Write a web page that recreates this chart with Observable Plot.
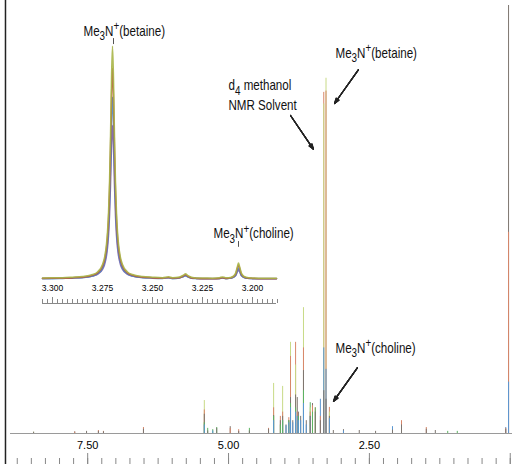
<!DOCTYPE html>
<html><head><meta charset="utf-8">
<script src="https://cdn.jsdelivr.net/npm/d3@7"></script>
<script src="https://cdn.jsdelivr.net/npm/@observablehq/plot@0.6"></script>
<style>
html,body{margin:0;padding:0;background:#fff;}
#wrap{position:relative;width:516px;height:464px;overflow:hidden;background:#fff;}
#wrap svg{position:absolute;left:0;top:0;}
</style></head><body><div id="wrap"></div>
<script>
// ---------------- main spectrum (ppm, intensity in % of full scale) ----------------
const peakPpm = [8.46, 7.73, 7.52, 7.31, 7.22, 6.51, 5.43, 5.37, 5.28, 5.21, 4.97, 4.82, 4.63, 4.29, 4.20, 4.08, 4.04, 3.98, 3.93, 3.90, 3.86, 3.81, 3.78, 3.76, 3.72, 3.67, 3.62, 3.55, 3.51, 3.46, 3.37, 3.31, 3.27, 3.21, 3.14, 2.96, 2.68, 2.39, 2.09, 1.93, 1.49, 1.33, 1.11, 0.94, 0.08, 0.03, -0.06];
const sampleA = [0.3, 0, 0, 0, 0, 0, 7.7, 0, 0, 0, 0, 0, 0, 0, 11.7, 0, 11.0, 0, 0, 21.3, 0, 16, 0, 0, 0, 29.4, 0, 6, 0, 0, 0, 77, 83, 5, 0, 0, 0, 0, 0, 0, 0, 0, 0, 0, 0, 0, 0];
const sampleB = [0, 0.3, 0, 0.7, 0.5, 1.4, 5.5, 0, 0, 0, 1.2, 0.9, 0, 1.2, 6, 4, 5, 0, 3.7, 18, 0, 21.3, 5, 0, 0, 20, 0, 5, 6.5, 6, 4, 79.7, 80, 6.1, 0, 0, 0, 0, 0, 3.0, 1.4, 0, 0, 0, 1.2, 47, 0.8];
const sampleC = [0, 0, 0, 0, 0, 0, 2.0, 0, 0.6, 0, 0, 0, 0, 0, 3, 0, 3, 1.8, 2.5, 6, 2.5, 5, 4, 3, 3, 7, 2, 4, 0, 0, 8, 20, 15, 3.5, 0, 0.6, 0, 0, 1.6, 0, 0, 0, 0, 0, 1.4, 12, 0];
const sampleD = [0.3, 0.4, 0.5, 0.5, 0.4, 1.0, 4.5, 0.6, 0, 1.2, 1.6, 0.5, 0.6, 1.0, 4.2, 3, 4, 2, 3, 8.4, 3, 9, 8.4, 5, 4, 14.7, 3, 4, 7, 5, 3, 10, 8, 4, 0.7, 0.9, 0.7, 0.5, 0.8, 2.0, 1.0, 0.7, 0, 0, 1.0, 105, 1.2];
const sampleE = [0, 0, 0, 0, 0, 0, 2.5, 1.2, 0.9, 1.4, 0, 0, 1.2, 0, 4, 2, 3, 0, 3, 7, 0, 6, 0, 4, 0, 10, 0, 7.2, 5, 6, 0, 0, 0, 0, 0, 0, 0, 0, 0, 0, 0, 0, 0.5, 0.5, 0, 0, 0];
const sampleNames = ["A", "B", "C", "D", "E"];
const sampleColors = ["#c8da86", "#d8876a", "#5a97d2", "#7d7670", "#5cb461"];

const majorTicks = [7.5, 5, 2.5, 0];
const minorTicks = [8.75, 8.5, 8.25, 8, 7.75, 7.5, 7.25, 7, 6.75, 6.5, 6.25, 6, 5.75, 5.5, 5.25, 5, 4.75, 4.5, 4.25, 4, 3.75, 3.5, 3.25, 3, 2.75, 2.5, 2.25, 2, 1.75, 1.5, 1.25, 1, 0.75, 0.5, 0.25, 0];
const labelTicks = [7.5, 5, 2.5];
const tickLabels = ["7.50", "5.00", "2.50"];

const mainLabels = ["Me_3N^+(betaine)", "d_4 methanol", "NMR Solvent", "Me_3N^+(choline)"];
const mainLabelPpm = [3.102, 5.001, 5.001, 3.102];
const mainLabelY = [88.9, 81.3, 76.6, 19.9];
const arrowX1 = [2.693, 3.900, 2.711];
const arrowY1 = [85.0, 74.3, 15.4];
const arrowX2 = [3.119, 3.492, 3.137];
const arrowY2 = [77.1, 66.4, 7.5];

// ---------------- inset (3.305 – 3.188 ppm) ----------------
const insetPpm = [3.305, 3.300, 3.295, 3.290, 3.285, 3.280, 3.2775, 3.275, 3.274, 3.273, 3.2725, 3.272, 3.2715, 3.271, 3.2705, 3.270, 3.2695, 3.269, 3.2685, 3.268, 3.2675, 3.267, 3.266, 3.265, 3.2625, 3.260, 3.255, 3.250, 3.245, 3.242, 3.240, 3.2365, 3.2345, 3.2335, 3.2325, 3.2305, 3.228, 3.225, 3.220, 3.2165, 3.215, 3.2135, 3.212, 3.210, 3.2085, 3.2075, 3.207, 3.2065, 3.2055, 3.204, 3.202, 3.200, 3.195, 3.190, 3.188];
const insetA = [0.7, 0.8, 0.8, 1.0, 1.3, 2.1, 3.2, 6.3, 9.2, 15.0, 20.0, 27.9, 40.4, 59.8, 84.2, 97.6, 84.2, 59.8, 40.4, 27.9, 20.0, 15.0, 9.2, 6.3, 3.2, 2.1, 1.3, 1.0, 0.8, 1.2, 0.8, 1.1, 1.9, 2.4, 1.8, 1.0, 0.7, 0.7, 0.6, 0.8, 1.1, 0.8, 0.8, 1.2, 2.6, 5.6, 6.9, 5.6, 2.6, 1.2, 0.8, 0.7, 0.6, 0.6, 0.6];
const insetB = [0.5, 0.6, 0.6, 0.7, 1.0, 1.8, 2.8, 5.6, 8.2, 13.4, 18.0, 25.1, 36.5, 54.1, 76.3, 88.4, 76.3, 54.1, 36.5, 25.1, 18.0, 13.4, 8.2, 5.6, 2.8, 1.8, 1.0, 0.7, 0.6, 0.9, 0.6, 0.8, 1.6, 2.0, 1.5, 0.7, 0.5, 0.4, 0.4, 0.5, 0.8, 0.5, 0.6, 1.0, 2.2, 5.0, 6.1, 5.0, 2.2, 1.0, 0.6, 0.5, 0.4, 0.4, 0.4];
const insetC = [0.4, 0.4, 0.5, 0.6, 0.8, 1.5, 2.4, 4.8, 7.1, 11.6, 15.5, 21.7, 31.5, 46.7, 65.8, 76.3, 65.8, 46.7, 31.5, 21.7, 15.5, 11.6, 7.1, 4.8, 2.4, 1.5, 0.8, 0.6, 0.5, 0.8, 0.4, 0.7, 1.3, 1.6, 1.2, 0.6, 0.4, 0.3, 0.3, 0.4, 0.7, 0.4, 0.5, 0.8, 1.7, 4.0, 4.9, 4.0, 1.7, 0.8, 0.5, 0.4, 0.3, 0.3, 0.3];
const insetD = [0.6, 0.6, 0.7, 0.8, 0.9, 1.5, 2.2, 4.3, 6.2, 10.0, 13.3, 18.5, 26.7, 39.5, 55.7, 64.5, 55.7, 39.5, 26.7, 18.5, 13.3, 10.0, 6.2, 4.3, 2.2, 1.5, 0.9, 0.8, 0.7, 0.8, 0.6, 0.8, 1.3, 1.6, 1.3, 0.7, 0.6, 0.5, 0.5, 0.6, 0.8, 0.6, 0.6, 0.9, 1.6, 3.4, 4.1, 3.4, 1.6, 0.9, 0.6, 0.5, 0.5, 0.5, 0.5];
const insetNames = ["D", "C", "B", "A"];
const insetColors = ["#7c5ea8", "#4f86c6", "#b8583c", "#a9b548"];
const insetMajor = [3.300, 3.275, 3.250, 3.225, 3.200];
const insetTickLabels = ["3.300", "3.275", "3.250", "3.225", "3.200"];
const insetMinor = [3.305, 3.3025, 3.300, 3.2975, 3.295, 3.2925, 3.290, 3.2875, 3.285, 3.2825, 3.280, 3.2775, 3.275, 3.2725, 3.270, 3.2675, 3.265, 3.2625, 3.260, 3.2575, 3.255, 3.2525, 3.250, 3.2475, 3.245, 3.2425, 3.240, 3.2375, 3.235, 3.2325, 3.230, 3.2275, 3.225, 3.2225, 3.220, 3.2175, 3.215, 3.2125, 3.210, 3.2075, 3.205, 3.2025, 3.200, 3.1975, 3.195, 3.1925, 3.190, 3.1875];
const insetLabels = ["Me_3N^+(betaine)", "Me_3N^+(choline)"];
const insetLabelPpm = [3.2845, 3.2195];
const insetLabelY = [103.8, 19.2];
const insetMarkPpm = [3.2695, 3.207];
const insetMarkY1 = [98.3, 13.5];
const insetMarkY2 = [100.8, 15.9];

// ---------------- build ----------------
const SANS = '"Liberation Sans", Arial, sans-serif';
const LABEL_STYLE = {fontSize: 14.5, fontFamily: SANS, fill: "#111"};

const samples = {A: sampleA, B: sampleB, C: sampleC, D: sampleD, E: sampleE};
const sticks = [];
for (const name of sampleNames) samples[name].forEach((h, i) => { if (h > 0) sticks.push({ppm: peakPpm[i], h, sample: name}); });
sticks.sort((a, b) => b.h - a.h);

const mainText = mainLabels.map((t, i) => ({t, x: mainLabelPpm[i], y: mainLabelY[i]}));
const arrows = arrowX1.map((x1, i) => ({x1, y1: arrowY1[i], x2: arrowX2[i], y2: arrowY2[i]}));
const arrowMarks = [8, 16, 24, 32, 40].map(a =>
  Plot.arrow(arrows, {x1: "x1", y1: "y1", x2: "x2", y2: "y2", stroke: "#222", strokeWidth: 1.2, headLength: 7, headAngle: a}));

const main = Plot.plot({
  width: 516, height: 464,
  marginLeft: 10, marginRight: 4, marginTop: 5, marginBottom: 31,
  x: {domain: [8.87, -0.04], axis: null, label: null},
  y: {domain: [0, 100], axis: null, label: null},
  color: {domain: sampleNames, range: sampleColors},
  style: {background: "transparent", fontFamily: SANS, overflow: "visible"},
  marks: [
    Plot.ruleY([0], {stroke: "#9a9a9a", strokeWidth: 1}),
    Plot.ruleX(sticks, {x: "ppm", y1: 0, y2: "h", stroke: "sample", strokeWidth: 1, clip: true}),
    Plot.ruleX([8.959], {stroke: "#222", strokeWidth: 1.5, insetTop: -5, insetBottom: -31}),
    Plot.axisX(majorTicks, {tickSize: 11, dy: 20, tickFormat: () => "", stroke: "#888", label: null}),
    Plot.axisX(minorTicks, {tickSize: 6, dy: 25, tickFormat: () => "", stroke: "#888", label: null}),
    Plot.axisX(labelTicks, {tickSize: 0, tickPadding: 8, tickFormat: d => tickLabels[labelTicks.indexOf(d)], fontSize: 11, label: null}),
    ...arrowMarks,
    Plot.text(mainText, {x: "x", y: "y", text: "t", textAnchor: "start", ...LABEL_STYLE})
  ]
});

const insetRows = [];
const insetSeries = {A: insetA, B: insetB, C: insetC, D: insetD};
for (const name of insetNames) insetSeries[name].forEach((v, i) => insetRows.push({ppm: insetPpm[i], v, s: name}));
const insetText = insetLabels.map((t, i) => ({t, x: insetLabelPpm[i], y: insetLabelY[i]}));
const insetMarks = insetMarkPpm.map((x, i) => ({x, y1: insetMarkY1[i], y2: insetMarkY2[i]}));

const inset = Plot.plot({
  width: 300, height: 320,
  marginLeft: 42, marginRight: 24, marginTop: 40, marginBottom: 17,
  x: {domain: [3.305, 3.188], axis: null, label: null},
  y: {domain: [-10, 100], axis: null, label: null},
  color: {domain: insetNames, range: insetColors},
  style: {background: "transparent", fontFamily: SANS, overflow: "visible"},
  marks: [
    Plot.ruleY([-10], {stroke: "#888", strokeWidth: 1}),
    Plot.axisX(insetMinor, {tickSize: 4, dy: -4, tickFormat: () => "", stroke: "#888", label: null}),
    Plot.axisX(insetMajor, {tickSize: 6, dy: -6, tickFormat: () => "", stroke: "#888", label: null}),
    Plot.axisX(insetMajor, {tickSize: 0, tickPadding: 0, dy: -19, tickFormat: d => insetTickLabels[insetMajor.indexOf(d)], fontSize: 8.5, label: null}),
    Plot.line(insetRows, {x: "ppm", y: "v", z: "s", stroke: "s", strokeWidth: 1.5, curve: "monotone-x", strokeOpacity: 0.9}),
    Plot.ruleX(insetMarks, {x: "x", y1: "y1", y2: "y2", stroke: "#555", strokeWidth: 1}),
    Plot.text(insetText, {x: "x", y: "y", text: "t", textAnchor: "start", ...LABEL_STYLE})
  ]
});

const wrap = document.getElementById("wrap");
wrap.appendChild(main);
wrap.appendChild(inset);

// condensed look for the annotation labels, and sub/superscripts
function richText(svg) {
  svg.querySelectorAll('g[aria-label="text"] text').forEach(t => {
    const tr = t.getAttribute("transform");
    if (tr) {
      t.setAttribute("transform", tr + " scale(0.8,1)");
    } else {
      const x = +t.getAttribute("x") || 0, y = +t.getAttribute("y") || 0;
      t.removeAttribute("x"); t.removeAttribute("y");
      t.setAttribute("transform", `translate(${x},${y}) scale(0.8,1)`);
    }
  });
  svg.querySelectorAll("text").forEach(t => {
    const s = t.textContent;
    if (!/[_^]/.test(s)) return;
    const segs = [];
    let buf = "";
    for (let i = 0; i < s.length; i++) {
      const c = s[i];
      if ((c === "_" || c === "^") && i + 1 < s.length) {
        if (buf) segs.push({t: buf, k: 0});
        buf = "";
        segs.push({t: s[i + 1], k: c === "_" ? 1 : -1});
        i++;
      } else buf += c;
    }
    if (buf) segs.push({t: buf, k: 0});
    const fs = parseFloat(getComputedStyle(t).fontSize) || 14;
    while (t.firstChild) t.removeChild(t.firstChild);
    let cur = 0;
    for (const sg of segs) {
      const target = sg.k === 1 ? 0.3 * fs : sg.k === -1 ? -0.4 * fs : 0;
      const ts = document.createElementNS("http://www.w3.org/2000/svg", "tspan");
      const d = target - cur;
      if (d) ts.setAttribute("dy", d.toFixed(2));
      if (sg.k) ts.setAttribute("font-size", (0.85 * fs).toFixed(2));
      ts.textContent = sg.t;
      t.appendChild(ts);
      cur = target;
    }
  });
}
richText(main);
richText(inset);
</script></body></html>
